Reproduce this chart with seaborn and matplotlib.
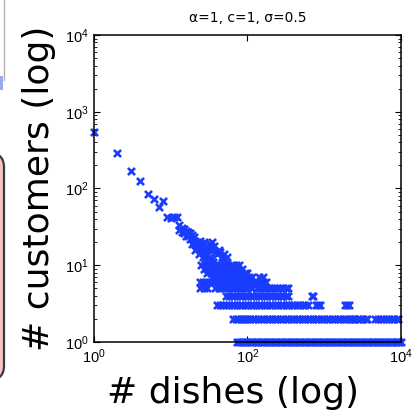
import numpy as np
import pandas as pd
import matplotlib
matplotlib.use("Agg")
import matplotlib.pyplot as plt
import seaborn as sns
from matplotlib.patches import FancyBboxPatch, Rectangle
from matplotlib.lines import Line2D
from matplotlib.ticker import LogLocator, NullLocator, NullFormatter

# --- data: dish index vs number of customers ---
# sparse head of the distribution
head_dishes = [1, 2, 3, 4, 5, 6, 7, 8, 9, 10, 11, 12]
head_customers = [550, 288, 171, 126, 86, 73, 57, 68, 42, 41, 42, 42]

# middle cloud (customers >= 11)
mid_dishes = [13, 14, 13, 15, 16, 15, 17, 18, 17, 19, 18, 20, 20, 21, 22, 22,
              23, 24, 25, 24, 26, 27, 28, 25, 27, 29, 30, 32, 34, 33, 35, 37,
              38, 26, 28, 30, 32, 34, 36, 40, 42, 44, 46, 48, 50, 52, 54, 29,
              31, 23, 21, 19, 16, 14]
mid_customers = [33, 31, 29, 30, 28, 26, 27, 26, 24, 25, 22, 23, 21, 19, 20, 18,
                 17, 21, 19, 16, 18, 20, 17, 15, 14, 16, 18, 19, 20, 17, 16, 18,
                 15, 13, 12, 14, 13, 12, 11, 14, 16, 15, 13, 12, 14, 11, 13, 11,
                 12, 14, 16, 19, 24, 27]

# rows of dishes sharing the same small customer count
row_10 = [25, 28, 31, 35, 39, 44, 49, 55, 62, 70, 78]
row_9 = [27, 30, 34, 38, 43, 48, 54, 61, 68, 76, 86]
row_8 = [30, 33, 37, 42, 47, 53, 59, 66, 74, 83, 93, 100]
row_7 = [34, 38, 43, 48, 54, 60, 67, 75, 84, 94, 105, 115, 140, 160]
row_6 = [24, 26, 29, 32, 35, 38, 41, 45, 50, 55, 61, 67, 74, 82, 90, 100, 110,
         121, 133, 146, 160, 175]
row_5 = [24, 27, 30, 38, 42, 46, 51, 56, 62, 68, 75, 83, 91, 100, 110, 115, 133,
         145, 158, 172, 188, 205, 224, 245, 268, 293, 320, 337]
row_4 = [53, 57, 62, 67, 73, 79, 86, 93, 101, 110, 119, 129, 140, 152, 165, 179,
         194, 211, 229, 248, 270, 293, 318, 335, 685, 710]
row_3 = [40, 44, 48, 53, 57, 62, 67, 73, 79, 86, 93, 101, 110, 119, 129, 140,
         152, 165, 179, 194, 211, 229, 248, 270, 293, 318, 345, 375, 407, 442,
         480, 521, 566, 610, 770, 820, 870, 1850, 2000, 2120]
row_2 = [65, 70, 76, 82, 88, 93, 100, 108, 117, 127, 138, 150, 163, 177, 192,
         208, 226, 245, 266, 289, 314, 341, 370, 402, 436, 473, 514, 558, 606,
         658, 714, 775, 841, 913, 991, 1076, 1168, 1268, 1376, 1494, 1622, 1760,
         1911, 2074, 2250, 2370, 2500, 2720, 2960, 3220, 3500, 3600, 4600, 5000,
         5430, 5900, 6400, 6950, 7550, 8200, 8900, 9200]
row_1 = [73, 77, 82, 88, 94, 100, 107, 114, 122, 130, 139, 148, 158, 169, 180,
         192, 205, 219, 234, 250, 267, 285, 304, 325, 347, 370, 395, 422, 450,
         480, 513, 547, 584, 624, 666, 711, 759, 810, 865, 923, 985, 1052, 1123,
         1199, 1280, 1366, 1458, 1557, 1662, 1774, 1894, 2022, 2158, 2304, 2460,
         2626, 2803, 2992, 3194, 3410, 3640, 3886, 4148, 4428, 4727, 5046, 5387,
         5750, 6138, 6553, 6995, 7467, 7971, 8509, 9084, 9500, 10000]

rows = {1: row_1, 2: row_2, 3: row_3, 4: row_4, 5: row_5,
        6: row_6, 7: row_7, 8: row_8, 9: row_9, 10: row_10}

dishes = head_dishes + mid_dishes
customers = head_customers + mid_customers
for count, xs in rows.items():
    dishes += xs
    customers += [count] * len(xs)
df = pd.DataFrame({"dishes": dishes, "customers": customers})

# --- style ---
sns.set_style("ticks")
plt.rcParams["font.family"] = ["Liberation Sans", "DejaVu Sans"]
plt.rcParams["mathtext.default"] = "regular"
plt.rcParams["text.color"] = "black"

fig = plt.figure(figsize=(4.13, 4.11), dpi=100)
W, H = 413, 411
ax = fig.add_axes([94 / W, (H - 342) / H, 307 / W, 307 / H])

sns.scatterplot(data=df, x="dishes", y="customers", marker="x", s=26,
                color="#1a3cff", linewidth=1.9, ax=ax, legend=False)
for coll in ax.collections:
    coll.set_clip_on(False)

ax.set_xscale("log")
ax.set_yscale("log")
ax.set_xlim(1, 1e4)
ax.set_ylim(1, 1e4)
ax.set_xticks([1, 1e2, 1e4])
ax.xaxis.set_minor_locator(NullLocator())
ax.yaxis.set_major_locator(LogLocator(base=10))
ax.yaxis.set_minor_locator(LogLocator(base=10, subs=np.arange(2, 10)))
ax.yaxis.set_minor_formatter(NullFormatter())
ax.set_xlabel("")
ax.set_ylabel("")

for side in ["left", "right", "top", "bottom"]:
    ax.spines[side].set_visible(True)
    ax.spines[side].set_linewidth(1.1)
    ax.spines[side].set_color("black")
ax.tick_params(which="both", direction="in", top=True, right=True,
               colors="black", labelcolor="black", labelsize=10.5)
ax.tick_params(which="major", length=4, width=0.8, pad=4)
ax.tick_params(which="minor", length=2, width=0.6)

ax.set_title("α=1, c=1, σ=0.5", fontsize=10, pad=9, color="black",
             family=["DejaVu Sans"])

big = ["DejaVu Sans"]
fig.text(233 / W, 1 - 393 / H, "# dishes (log)", fontsize=26, family=big,
         ha="center", va="center", color="black")
fig.text(39 / W, 1 - 188 / H, "# customers (log)", fontsize=26, family=big,
         ha="center", va="center", rotation=90, color="black")

# fragments of the neighbouring slide content on the left edge
fig.patches.append(FancyBboxPatch((-0.05, (H - 380) / H), 0.05 + 4 / W,
                                  227 / H, boxstyle="round,pad=0,rounding_size=0.035",
                                  facecolor="#f6c4c4", edgecolor="#3a3a3a",
                                  linewidth=1.6, transform=fig.transFigure,
                                  figure=fig))
fig.lines.append(Line2D([3.5 / W, 3.5 / W], [1, 1 - 80 / H], color="#b0b0b0",
                        linewidth=1.0, transform=fig.transFigure, figure=fig))
fig.patches.append(Rectangle((0, 1 - 90 / H), 3 / W, 14 / H, facecolor="#5570dd",
                             alpha=0.6, edgecolor="none", transform=fig.transFigure,
                             figure=fig))

fig.savefig("out.png", dpi=100)
